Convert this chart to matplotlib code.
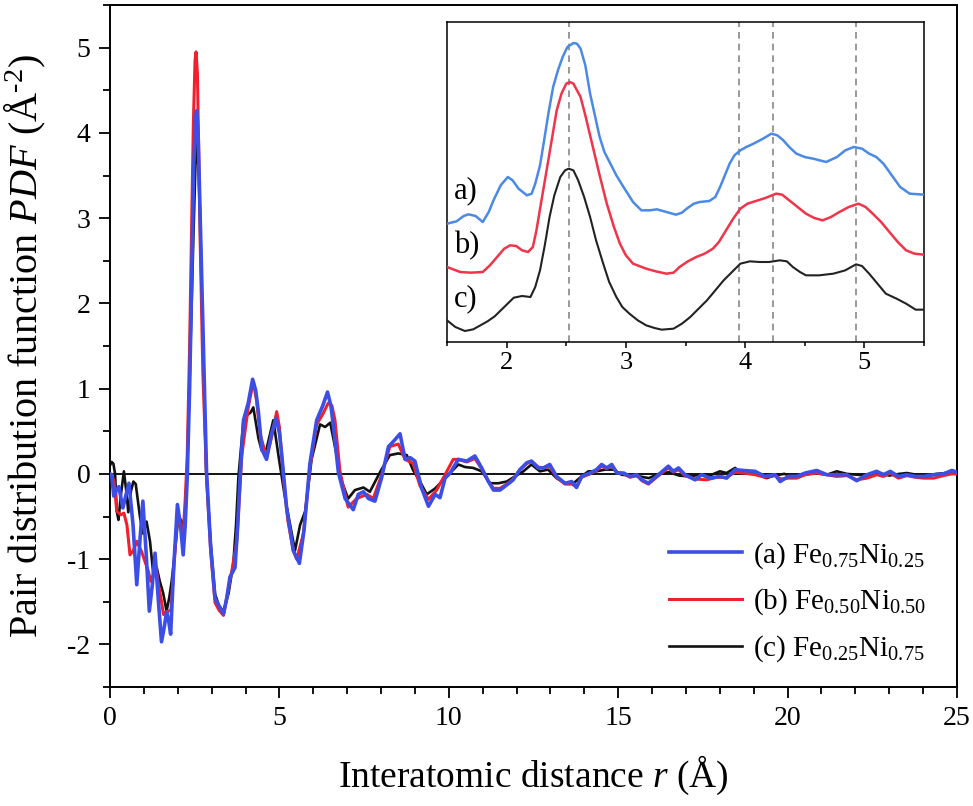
import matplotlib
matplotlib.use("Agg")
import matplotlib.pyplot as plt
from matplotlib.ticker import MultipleLocator

plt.rcParams['font.family'] = ['Liberation Serif', 'DejaVu Serif']
plt.rcParams['mathtext.fontset'] = 'custom'
plt.rcParams['mathtext.rm'] = 'Liberation Serif'
plt.rcParams['mathtext.it'] = 'Liberation Serif:italic'
plt.rcParams['axes.unicode_minus'] = False

# ---------------- main panel data (r in Å, PDF in Å^-2) ----------------
r_a = [0.0, 0.05, 0.11, 0.18, 0.26, 0.38, 0.47, 0.56, 0.68, 0.79, 0.88, 0.97, 1.07, 1.16, 1.25, 1.33,
       1.43, 1.52, 1.60, 1.67, 1.73, 1.79, 1.88, 1.99, 2.08, 2.16, 2.22, 2.28, 2.35, 2.41, 2.47, 2.53,
       2.56, 2.60, 2.65, 2.71, 2.78, 2.85, 2.97, 3.10, 3.22, 3.35, 3.45, 3.54, 3.69, 3.77, 3.84, 3.94,
       4.08, 4.21, 4.30, 4.38, 4.48, 4.62, 4.77, 4.90, 5.00, 5.07, 5.21, 5.41, 5.59, 5.73, 5.90, 6.10,
       6.28, 6.42, 6.52, 6.59, 6.74, 6.94, 7.18, 7.33, 7.48, 7.63, 7.82, 8.02, 8.22, 8.41, 8.56, 8.71,
       8.86, 9.00, 9.20, 9.40, 9.60, 9.74, 9.89, 10.04, 10.28, 10.53, 10.77, 10.97, 11.17, 11.32, 11.51,
       11.71, 11.90, 12.10, 12.30, 12.44, 12.64, 12.79, 12.98, 13.18, 13.43, 13.63, 13.77, 13.92, 14.17,
       14.36, 14.51, 14.66, 14.81, 14.96, 15.16, 15.35, 15.55, 15.70, 15.89, 16.13, 16.48, 16.63, 16.78,
       16.97, 17.27, 17.46, 17.71, 18.00, 18.20, 18.45, 18.69, 19.04, 19.33, 19.63, 19.78, 20.02, 20.27,
       20.52, 20.86, 21.16, 21.45, 21.75, 22.04, 22.34, 22.63, 22.83, 23.03, 23.27, 23.52, 23.77, 24.01,
       24.31, 24.60, 24.85, 25.0]
v_a = [0.0, -0.01, -0.26, -0.20, -0.15, -0.40, -0.25, -0.11, -0.60, -1.30, -0.80, -0.32, -0.95, -1.61,
       -1.30, -0.93, -1.50, -1.97, -1.80, -1.62, -1.72, -1.88, -1.10, -0.36, -0.60, -0.95, -0.60, -0.04,
       1.00, 2.25, 3.60, 4.20, 4.26, 4.00, 3.20, 2.25, 1.10, 0.02, -0.85, -1.46, -1.55, -1.64, -1.45,
       -1.21, -1.10, -0.60, -0.04, 0.63, 0.83, 1.11, 0.98, 0.73, 0.29, 0.17, 0.47, 0.65, 0.48, 0.22,
       -0.39, -0.90, -1.05, -0.65, 0.12, 0.63, 0.80, 0.96, 0.80, 0.57, 0.02, -0.29, -0.42, -0.24, -0.21,
       -0.29, -0.32, -0.04, 0.32, 0.40, 0.47, 0.17, 0.19, 0.15, -0.17, -0.38, -0.24, -0.28, -0.05, 0.01,
       0.17, 0.15, 0.21, 0.07, -0.09, -0.19, -0.19, -0.13, -0.07, 0.05, 0.13, 0.15, 0.07, 0.07, 0.11,
       -0.03, -0.11, -0.09, -0.16, -0.03, 0.01, 0.05, 0.11, 0.07, 0.11, 0.01, 0.01, -0.03, -0.01, -0.07,
       -0.11, -0.03, 0.09, 0.03, 0.07, -0.01, -0.07, -0.01, -0.05, -0.03, -0.05, 0.05, 0.04, 0.03, -0.03,
       -0.01, -0.09, -0.03, -0.03, 0.01, 0.04, -0.01, -0.01, -0.01, -0.08, -0.01, 0.03, -0.01, 0.03,
       -0.03, -0.01, -0.03, -0.03, -0.01, 0.00, 0.04, 0.02]

r_b = [0.0, 0.05, 0.12, 0.20, 0.32, 0.41, 0.50, 0.59, 0.69, 0.79, 0.93, 1.05, 1.13, 1.20, 1.28, 1.36,
       1.43, 1.50, 1.58, 1.65, 1.72, 1.80, 1.87, 1.99, 2.08, 2.16, 2.22, 2.28, 2.35, 2.41, 2.46, 2.51,
       2.54, 2.58, 2.62, 2.66, 2.74, 2.85, 2.97, 3.10, 3.22, 3.35, 3.47, 3.59, 3.74, 3.89, 4.08, 4.23,
       4.33, 4.43, 4.62, 4.78, 4.92, 5.00, 5.12, 5.25, 5.41, 5.51, 5.71, 5.90, 6.10, 6.28, 6.44, 6.55,
       6.64, 6.79, 7.03, 7.28, 7.58, 7.77, 8.02, 8.26, 8.51, 8.71, 8.95, 9.15, 9.40, 9.64, 9.89, 10.13,
       10.28, 10.53, 10.77, 10.97, 11.17, 11.32, 11.51, 11.71, 11.90, 12.10, 12.30, 12.44, 12.64, 12.79,
       12.98, 13.18, 13.43, 13.63, 13.77, 13.92, 14.17, 14.36, 14.51, 14.66, 14.81, 14.96, 15.16, 15.35,
       15.55, 15.70, 15.89, 16.13, 16.48, 16.63, 16.78, 16.97, 17.27, 17.61, 17.90, 18.20, 18.45, 18.69,
       19.04, 19.33, 19.63, 19.80, 20.02, 20.27, 20.52, 20.86, 21.16, 21.45, 21.75, 22.04, 22.34, 22.63,
       22.83, 23.03, 23.27, 23.52, 23.77, 24.01, 24.31, 24.60, 24.85, 25.0]
v_b = [0.0, -0.01, -0.09, -0.44, -0.48, -0.46, -0.60, -0.95, -0.90, -0.79, -0.91, -1.05, -1.14, -1.26,
       -1.18, -1.10, -1.30, -1.45, -1.65, -1.62, -1.61, -1.60, -1.18, -0.49, -0.62, -0.70, -0.30, 0.22,
       1.50, 2.90, 4.10, 4.85, 4.95, 4.70, 3.70, 2.76, 1.20, -0.04, -0.90, -1.51, -1.60, -1.66, -1.40,
       -1.15, -0.80, 0.22, 0.78, 1.08, 0.85, 0.47, 0.19, 0.45, 0.73, 0.55, -0.04, -0.55, -0.90, -1.00,
       -0.70, 0.07, 0.58, 0.70, 0.83, 0.80, 0.63, 0.02, -0.39, -0.29, -0.24, -0.29, -0.01, 0.32, 0.35,
       0.17, 0.12, -0.14, -0.30, -0.19, -0.01, 0.17, 0.17, 0.14, 0.18, 0.06, -0.09, -0.17, -0.17, -0.12,
       -0.06, 0.05, 0.12, 0.15, 0.08, 0.07, 0.09, -0.04, -0.12, -0.12, -0.15, -0.04, 0.00, 0.04, 0.09,
       0.06, 0.10, 0.02, 0.00, -0.04, -0.02, -0.08, -0.12, -0.04, 0.07, 0.02, 0.05, -0.02, -0.06, -0.07,
       -0.04, -0.04, 0.02, 0.01, -0.01, -0.04, -0.02, -0.06, -0.05, -0.05, -0.01, 0.01, -0.01, -0.03,
       -0.02, -0.07, -0.05, -0.01, -0.03, 0.01, -0.05, -0.02, -0.04, -0.05, -0.05, -0.02, 0.00, 0.00]

r_c = [0.0, 0.05, 0.10, 0.15, 0.20, 0.25, 0.32, 0.41, 0.48, 0.54, 0.62, 0.69, 0.76, 0.89, 0.98, 1.08,
       1.18, 1.28, 1.38, 1.47, 1.57, 1.67, 1.75, 1.82, 1.92, 2.02, 2.10, 2.16, 2.22, 2.28, 2.37, 2.46,
       2.52, 2.56, 2.61, 2.66, 2.75, 2.84, 2.97, 3.10, 3.22, 3.35, 3.50, 3.64, 3.72, 3.79, 3.94, 4.08,
       4.15, 4.23, 4.38, 4.48, 4.62, 4.82, 4.97, 5.17, 5.46, 5.61, 5.76, 5.95, 6.20, 6.35, 6.50, 6.69,
       6.84, 7.03, 7.23, 7.48, 7.67, 7.97, 8.26, 8.51, 8.76, 8.95, 9.15, 9.35, 9.60, 9.84, 10.04, 10.28,
       10.48, 10.72, 10.97, 11.22, 11.46, 11.71, 11.95, 12.20, 12.44, 12.69, 12.93, 13.18, 13.43, 13.68,
       13.92, 14.12, 14.36, 14.61, 14.86, 15.10, 15.40, 15.64, 15.90, 16.20, 16.50, 16.80, 17.10, 17.40,
       17.70, 18.00, 18.20, 18.45, 18.60, 18.90, 19.10, 19.38, 19.60, 19.90, 20.20, 20.50, 20.80, 21.16,
       21.45, 21.75, 22.04, 22.34, 22.70, 23.00, 23.30, 23.52, 23.80, 24.10, 24.40, 24.70, 25.0]
v_c = [0.10, 0.14, 0.12, 0.00, -0.44, -0.54, -0.25, 0.03, -0.20, -0.45, -0.20, -0.09, -0.12, -0.52,
       -0.70, -0.56, -0.79, -1.18, -1.10, -1.26, -1.40, -1.61, -1.45, -1.26, -0.90, -0.49, -0.55, -0.65,
       -0.40, 0.02, 1.40, 2.76, 3.60, 3.93, 3.60, 3.02, 1.40, 0.02, -0.80, -1.41, -1.55, -1.61, -1.40,
       -1.05, -0.60, -0.04, 0.63, 0.70, 0.72, 0.78, 0.42, 0.27, 0.29, 0.63, 0.22, -0.29, -0.90, -0.60,
       -0.44, 0.17, 0.58, 0.55, 0.60, 0.22, -0.09, -0.29, -0.19, -0.16, -0.21, 0.02, 0.22, 0.24, 0.22,
       0.04, -0.09, -0.24, -0.17, -0.07, 0.01, 0.11, 0.08, 0.07, 0.03, -0.11, -0.11, -0.09, -0.03, 0.03,
       0.11, 0.03, 0.05, -0.05, -0.11, -0.11, -0.03, 0.03, 0.03, 0.05, 0.05, -0.01, -0.02, -0.03, -0.05,
       0.00, 0.02, -0.02, -0.03, -0.01, -0.02, 0.03, 0.01, 0.07, 0.02, 0.03, 0.00, -0.05, -0.02, 0.00,
       -0.03, -0.01, 0.01, -0.01, 0.03, 0.00, -0.01, -0.02, 0.01, -0.02, 0.00, 0.01, -0.01, -0.02,
       0.00, 0.01, 0.00]

# ---------------- inset data (r in Å, offset curves, arbitrary units) ----------------
ri_a = [1.50, 1.58, 1.64, 1.68, 1.74, 1.80, 1.85, 1.89, 1.95, 2.01, 2.05, 2.10, 2.17, 2.21, 2.24,
        2.28, 2.31, 2.35, 2.39, 2.43, 2.47, 2.51, 2.56, 2.59, 2.62, 2.66, 2.70, 2.74, 2.78, 2.82,
        2.87, 2.92, 2.98, 3.06, 3.13, 3.20, 3.26, 3.34, 3.42, 3.47, 3.51, 3.57, 3.62, 3.70, 3.75,
        3.79, 3.83, 3.87, 3.91, 3.96, 4.01, 4.07, 4.15, 4.22, 4.27, 4.32, 4.37, 4.43, 4.50, 4.57,
        4.68, 4.77, 4.84, 4.91, 4.98, 5.04, 5.10, 5.16, 5.23, 5.30, 5.38, 5.50]
vi_a = [3.55, 3.62, 3.78, 3.83, 3.78, 3.60, 3.90, 4.25, 4.70, 4.95, 4.85, 4.60, 4.40, 4.45, 4.75,
        5.30, 5.95, 6.85, 7.65, 8.15, 8.55, 8.85, 8.97, 8.95, 8.80, 8.30, 7.45, 6.80, 6.15, 5.70,
        5.35, 5.00, 4.65, 4.20, 3.95, 3.95, 3.98, 3.90, 3.82, 3.88, 4.00, 4.15, 4.20, 4.23, 4.35,
        4.65, 5.00, 5.35, 5.60, 5.75, 5.85, 5.95, 6.10, 6.25, 6.20, 6.05, 5.85, 5.65, 5.55, 5.50,
        5.40, 5.55, 5.75, 5.85, 5.80, 5.65, 5.55, 5.35, 5.00, 4.65, 4.45, 4.42]

ri_b = [1.50, 1.61, 1.70, 1.80, 1.86, 1.92, 1.98, 2.03, 2.08, 2.13, 2.18, 2.22, 2.25, 2.29, 2.34,
        2.38, 2.42, 2.46, 2.50, 2.53, 2.56, 2.59, 2.62, 2.66, 2.70, 2.73, 2.78, 2.84, 2.90, 2.95,
        3.00, 3.06, 3.17, 3.25, 3.34, 3.40, 3.45, 3.52, 3.59, 3.66, 3.73, 3.78, 3.84, 3.90, 3.96,
        4.02, 4.09, 4.17, 4.26, 4.31, 4.37, 4.44, 4.51, 4.58, 4.65, 4.72, 4.79, 4.87, 4.95, 5.01,
        5.07, 5.14, 5.21, 5.28, 5.35, 5.42, 5.50]
vi_b = [2.25, 2.10, 2.08, 2.10, 2.30, 2.55, 2.80, 2.90, 2.88, 2.75, 2.70, 2.85, 3.35, 4.20, 5.25,
        6.10, 6.95, 7.45, 7.75, 7.80, 7.75, 7.55, 7.35, 6.80, 6.20, 5.75, 5.00, 4.15, 3.45, 2.95,
        2.60, 2.35, 2.20, 2.12, 2.05, 2.08, 2.25, 2.42, 2.55, 2.65, 2.80, 3.00, 3.35, 3.70, 4.00,
        4.15, 4.23, 4.32, 4.45, 4.42, 4.25, 4.05, 3.85, 3.72, 3.65, 3.75, 3.90, 4.05, 4.15, 4.05,
        3.85, 3.60, 3.30, 3.00, 2.75, 2.65, 2.62]

ri_c = [1.50, 1.57, 1.65, 1.72, 1.78, 1.84, 1.90, 1.98, 2.06, 2.13, 2.20, 2.24, 2.28, 2.32, 2.36,
        2.40, 2.45, 2.49, 2.52, 2.56, 2.60, 2.65, 2.70, 2.75, 2.81, 2.86, 2.92, 2.97, 3.03, 3.10,
        3.17, 3.24, 3.30, 3.40, 3.47, 3.54, 3.61, 3.68, 3.75, 3.82, 3.89, 3.96, 4.04, 4.12, 4.20,
        4.29, 4.35, 4.40, 4.46, 4.51, 4.62, 4.74, 4.84, 4.93, 4.98, 5.04, 5.11, 5.18, 5.27, 5.35,
        5.43, 5.50]
vi_c = [0.65, 0.45, 0.33, 0.38, 0.50, 0.62, 0.77, 1.05, 1.33, 1.38, 1.35, 1.65, 2.15, 2.90, 3.75,
        4.40, 4.95, 5.15, 5.20, 5.15, 4.85, 4.35, 3.75, 3.05, 2.35, 1.80, 1.35, 1.05, 0.85, 0.65,
        0.50, 0.42, 0.37, 0.40, 0.55, 0.75, 1.00, 1.25, 1.55, 1.85, 2.10, 2.35, 2.42, 2.40, 2.40,
        2.45, 2.42, 2.25, 2.10, 2.00, 2.00, 2.05, 2.15, 2.33, 2.28, 2.05, 1.75, 1.45, 1.30, 1.15,
        0.97, 0.97]

guide_r = [2.52, 3.95, 4.23, 4.93]
inset_labels = ['a)', 'b)', 'c)']
inset_label_y = [4.55, 2.90, 1.30]

legend_labels = ['(a) Fe$_{0.75}$Ni$_{0.25}$', '(b) Fe$_{0.50}$Ni$_{0.50}$', '(c) Fe$_{0.25}$Ni$_{0.75}$']

blue_main, red_main, black_main = '#3c4ee6', '#f0202c', '#111111'
blue_in, red_in = '#4a8ae6', '#f0344a'

fig = plt.figure(figsize=(9.73, 8.06), dpi=100)
ax = fig.add_axes([110/973, 1-687/806, (957-110)/973, (687-5)/806])

ax.axhline(0, color='black', lw=1.3, zorder=1)
l_c, = ax.plot(r_c, v_c, color=black_main, lw=1.9, zorder=2)
l_b, = ax.plot(r_b, v_b, color=red_main, lw=2.2, zorder=3)
l_a, = ax.plot(r_a, v_a, color=blue_main, lw=2.6, zorder=4)

ax.set_xlim(0, 25)
ax.set_ylim(-2.5, 5.5)
ax.xaxis.set_major_locator(MultipleLocator(5))
ax.xaxis.set_minor_locator(MultipleLocator(1))
ax.yaxis.set_major_locator(MultipleLocator(1))
ax.yaxis.set_minor_locator(MultipleLocator(0.5))
ax.tick_params(which='both', direction='out', top=False, right=False, width=1.3, labelsize=20)
ax.tick_params(which='major', length=8, pad=6)
ax.tick_params(which='minor', length=5)
for s in ax.spines.values():
    s.set_linewidth(1.4)

ax.set_xlabel('Interatomic distance $r$ (Å)', fontsize=27, labelpad=16)
ax.set_ylabel('Pair distribution function $PDF$ (Å$^{\\text{-2}}$)', fontsize=29, labelpad=14)

leg = ax.legend([l_a, l_b, l_c], legend_labels, loc='lower right', bbox_to_anchor=(0.995, -0.005),
                frameon=False, fontsize=21, handlelength=2.5, handletextpad=0.4, labelspacing=0.55)

# ---------------- inset ----------------
axi = fig.add_axes([447/973, 1-342/806, (924-447)/973, (342-22)/806])
for g in guide_r:
    axi.axvline(g, color='#888888', lw=1.2, ls=(0, (4, 3)), zorder=1)
axi.plot(ri_a, vi_a, color=blue_in, lw=1.8, zorder=3)
axi.plot(ri_b, vi_b, color=red_in, lw=1.8, zorder=3)
axi.plot(ri_c, vi_c, color='#222222', lw=1.5, zorder=3)
for lab, y in zip(inset_labels, inset_label_y):
    axi.text(1.56, y, lab, fontsize=22, ha='left', va='center')
axi.set_xlim(1.5, 5.5)
axi.set_ylim(0, 9.6)
axi.xaxis.set_major_locator(MultipleLocator(1))
axi.xaxis.set_minor_locator(MultipleLocator(0.5))
axi.set_yticks([])
axi.tick_params(which='both', direction='out', top=False, right=False, width=1.1, labelsize=19)
axi.tick_params(which='major', length=4)
axi.tick_params(which='minor', length=3)
for s in axi.spines.values():
    s.set_linewidth(1.1)

fig.savefig('out.png', dpi=100)
